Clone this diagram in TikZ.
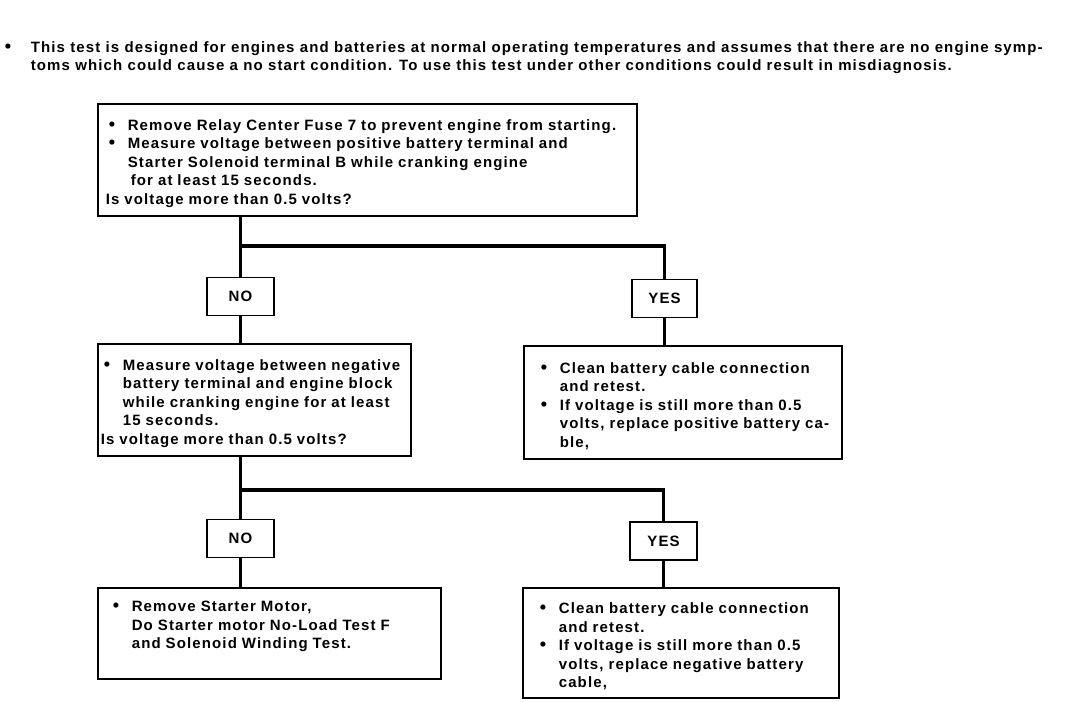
\documentclass[tikz,border=0pt]{standalone}
\usepackage{fontspec}
\setmainfont{Liberation Sans}[LetterSpace=7.5]
\usetikzlibrary{positioning}
\newcommand{\bigdot}{{\fontsize{18}{18}\selectfont\textbullet}}
\newcommand{\bul}{\makebox[22pt][l]{\hspace*{3pt}\bigdot}}
\newcommand{\ind}{\hspace*{22pt}}
\newcommand{\topgap}{\rule{0pt}{18pt}}

\begin{document}
\begin{tikzpicture}[x=1pt, y=-1pt, line width=1.6pt,
  font=\fontsize{15}{18.5}\selectfont\bfseries,
  box/.style={draw, rectangle, anchor=north west, align=left, inner ysep=0pt},
  tag/.style={draw, rectangle, minimum width=67pt, minimum height=38pt, inner sep=0pt},
  link/.style={line width=3.5pt}]
\useasboundingbox (0,0) rectangle (1072,702);

% note on top
\node[anchor=north west, align=left, inner sep=0pt,
      font=\fontsize{15}{17.5}\selectfont\bfseries] (note) at (2,41)
  {\makebox[28pt][l]{\hspace*{2pt}\bigdot}This test is designed for engines and batteries at normal operating temperatures and assumes that there are no engine symp-\\
   \hspace*{28pt}toms which could cause a no start condition. To use this test under other conditions could result in misdiagnosis.};

% first check
\node[box, text width=523pt, inner xsep=8pt, minimum height=112pt] (q1) at (97,103)
  {\topgap\bul Remove Relay Center Fuse 7 to prevent engine from starting.\\
   \bul Measure voltage between positive battery terminal and\\
   \ind Starter Solenoid terminal B while cranking engine\\
   \ind\hspace*{3pt}for at least 15 seconds.\\
   Is voltage more than 0.5 volts?};

\node[tag] (no1) at (240.5,296.5) {NO};
\node[tag, minimum width=65pt] (yes1) at (664.5,298.5) {YES};

% second check
\node[box, text width=307pt, inner xsep=3pt, minimum height=112pt] (q2) at (97,343)
  {\topgap\bul Measure voltage between negative\\
   \ind battery terminal and engine block\\
   \ind while cranking engine for at least\\
   \ind 15 seconds.\\
   Is voltage more than 0.5 volts?};

% positive cable
\node[box, text width=310pt, inner xsep=4pt, minimum height=113pt] (fix1) at (523,345)
  {\topgap\hspace*{10pt}\bul Clean battery cable connection\\
   \hspace*{10pt}\ind and retest.\\
   \hspace*{10pt}\bul If voltage is still more than 0.5\\
   \hspace*{10pt}\ind volts, replace positive battery ca-\\
   \hspace*{10pt}\ind ble,};

\node[tag] (no2) at (240.5,538.5) {NO};
\node[tag] (yes2) at (663.5,541) {YES};

% starter motor
\node[box, text width=319pt, inner xsep=12pt, minimum height=91pt] (act1) at (97,587)
  {\rule{0pt}{12pt}\bul Remove Starter Motor,\\
   \ind Do Starter motor No-Load Test F\\
   \ind and Solenoid Winding Test.\\
   \mbox{}};

% negative cable
\node[box, text width=308pt, inner xsep=4pt, minimum height=110pt] (fix2) at (522,587)
  {\topgap\hspace*{10pt}\bul Clean battery cable connection\\
   \hspace*{10pt}\ind and retest.\\
   \hspace*{10pt}\bul If voltage is still more than 0.5\\
   \hspace*{10pt}\ind volts, replace negative battery\\
   \hspace*{10pt}\ind cable,};

% connectors
\coordinate (j1) at (240.5,246);
\coordinate (j2) at (240.5,490);
\draw[link] (q1.south -| no1) -- (no1.north);
\draw[link] (j1) -| (yes1.north);
\draw[link] (no1.south) -- (q2.north -| no1);
\draw[link] (yes1.south) -- (fix1.north -| yes1);
\draw[link] (q2.south -| no2) -- (no2.north);
\draw[link] (j2) -| (yes2.north);
\draw[link] (no2.south) -- (act1.north -| no2);
\draw[link] (yes2.south) -- (fix2.north -| yes2);
\end{tikzpicture}
\end{document}
